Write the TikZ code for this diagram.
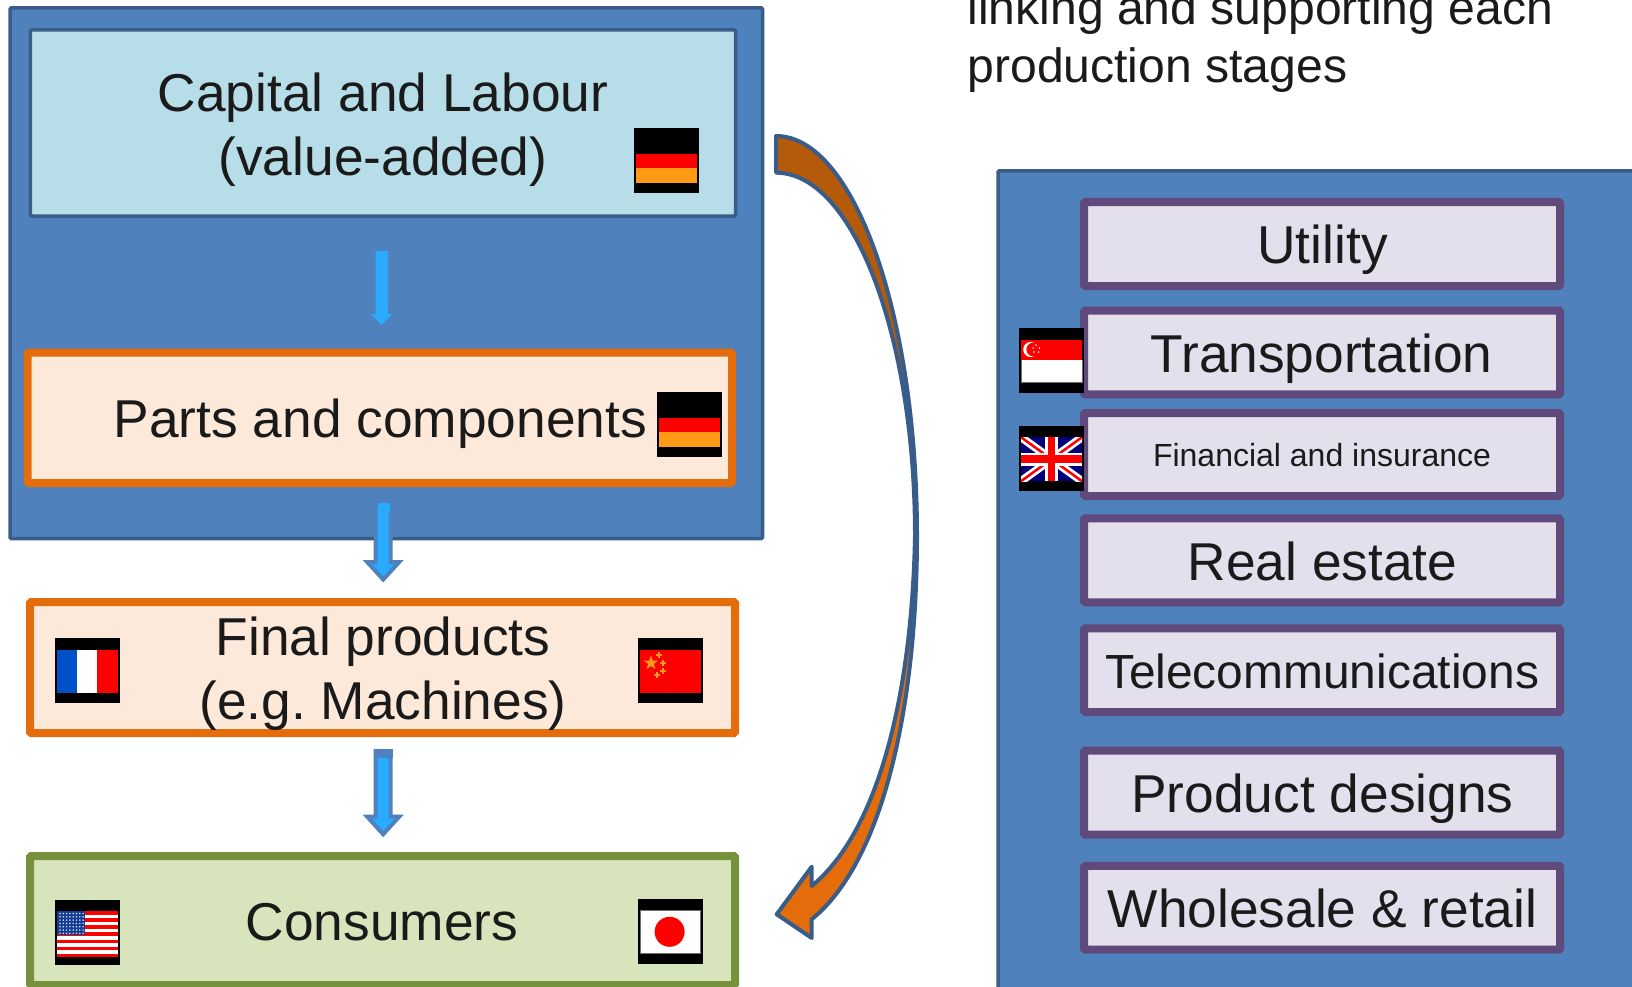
\documentclass[tikz,border=0pt]{standalone}
\usepackage{fontspec}
\setmainfont{Liberation Sans}
\usetikzlibrary{calc}
\frenchspacing
\definecolor{panelfill}{HTML}{4F81BD}
\definecolor{panelline}{HTML}{385D8A}
\definecolor{capfill}{HTML}{B7DDE8}
\definecolor{orfill}{HTML}{FDE9D9}
\definecolor{orline}{HTML}{E46C0A}
\definecolor{grfill}{HTML}{D7E4BC}
\definecolor{grline}{HTML}{76923C}
\definecolor{pufill}{HTML}{E4DFEC}
\definecolor{puline}{HTML}{604A7B}
\definecolor{arrowfill}{HTML}{29ABFF}
\definecolor{darkor}{HTML}{B45A08}
\definecolor{ink}{HTML}{1A1A1A}
\definecolor{flagred}{HTML}{FF0000}
\definecolor{flagor}{HTML}{FF9A17}
\definecolor{flagblue}{HTML}{0050C8}
\definecolor{flagnavy}{HTML}{00007A}
\definecolor{canton}{HTML}{123C96}
\definecolor{edgegrey}{HTML}{6A746A}
\newcommand{\flagblack}{\fill[black] (0,0) rectangle (65,65);}
\tikzset{
  x=1pt,y=-1pt,
  boxbase/.style={rectangle,inner sep=0pt,rounded corners=1.2pt,anchor=center},
  bluebox/.style={boxbase,draw=panelline,fill=panelfill,line width=3.5pt},
  capbox/.style={boxbase,draw=panelline,fill=capfill,line width=3.5pt},
  orbox/.style={boxbase,draw=orline,fill=orfill,line width=8pt},
  grbox/.style={boxbase,draw=grline,fill=grfill,line width=8pt},
  pubox/.style={boxbase,draw=puline,fill=pufill,line width=8pt},
  big/.style={font=\fontsize{53.3}{64}\selectfont,text=ink,inner sep=0pt,anchor=base,align=center},
  mid/.style={font=\fontsize{48.1}{58}\selectfont,text=ink,inner sep=0pt,anchor=base,align=left},
  tele/.style={font=\fontsize{47.9}{57}\selectfont,text=ink,inner sep=0pt,anchor=base},
  small/.style={font=\fontsize{32}{38}\selectfont,text=ink,inner sep=0pt,anchor=base},
  blockarrow/.style={fill=arrowfill,draw=panelfill,line width=4pt,line join=miter},
  curveline/.style={draw=panelline,line width=4pt,line join=round},
  deflag/.pic={\flagblack
    \fill[flagred] (2,26.3) rectangle (63,40.3);
    \fill[flagor] (2,40.3) rectangle (63,55);},
  frflag/.pic={\flagblack
    \fill[flagblue] (2.3,12) rectangle (22.3,55);
    \fill[white] (22.3,12) rectangle (42.3,55);
    \fill[flagred] (42.3,12) rectangle (62.7,55);},
  cnflag/.pic={\flagblack
    \fill[flagred] (2.3,12) rectangle (62.7,55);
    \fill[flagor] (13,18)--(14.76,23.07)--(20.1,23.2)--(15.85,26.43)--(17.4,31.6)--(13,28.5)--(8.6,31.6)--(10.15,26.43)--(5.9,23.2)--(11.24,23.07)--cycle;
    \foreach \a/\b in {21.3/17,25.3/25.3,25.3/33.7,19.3/37.7}{
      \fill[flagor] (\a-1,\b-3) rectangle (\a+1,\b+3);
      \fill[flagor] (\a-3,\b-1) rectangle (\a+3,\b+1);}},
  usflag/.pic={\flagblack
    \fill[white] (2.3,11.7) rectangle (62.7,57.7);
    \foreach \i in {0,...,6}{\fill[flagred] (2.3,{11.7+7.08*\i}) rectangle (62.7,{11.7+7.08*\i+3.54});}
    \fill[canton] (2.3,11.7) rectangle (30,35.7);
    \foreach \r in {0,...,6}{\foreach \c in {0,...,7}{\fill[white!85!canton] ({5+3.3*\c},{14+3.3*\r}) circle (0.85);}}},
  jpflag/.pic={\flagblack
    \fill[white] (2.3,12) rectangle (62.7,55);
    \draw[edgegrey,line width=0.8pt] (2.3,12) rectangle (62.7,55);
    \fill[flagred] (31.6,33.3) circle (15);},
  sgflag/.pic={\flagblack
    \fill[white] (2,32) rectangle (63,55);
    \draw[edgegrey,line width=0.8pt] (2,32)--(2,55)--(63,55)--(63,32);
    \fill[flagred] (2,12) rectangle (63,32);
    \fill[white] (11.7,22) circle (7.5);
    \fill[flagred] (14.2,22) circle (6.8);
    \foreach \a/\b in {17/17.5,20.5/20.5,19.5/24.5,15/24.5,14/20.5}{\fill[white] (\a,\b) circle (0.9);}},
  ukflag/.pic={\flagblack
    \begin{scope}
      \clip (2,11.7) rectangle (63,55.7);
      \fill[flagnavy] (2,11.7) rectangle (63,55.7);
      \draw[white,line width=8pt] (2,11.7)--(63,55.7) (2,55.7)--(63,11.7);
      \draw[flagred,line width=2.5pt] (2,11.7)--(63,55.7) (2,55.7)--(63,11.7);
      \draw[white,line width=13pt] (32.5,11.7)--(32.5,55.7) (2,33.7)--(63,33.7);
      \draw[flagred,line width=7.5pt] (32.5,11.7)--(32.5,55.7) (2,33.7)--(63,33.7);
    \end{scope}}
}
\begin{document}
\begin{tikzpicture}
\clip (0,0) rectangle (1632,987);
\fill[white] (0,0) rectangle (1632,987);

% top text
\node[mid,anchor=base west] (toptext) at (967.3,82.3) {linking and supporting each\\production stages};

% left column
\node[bluebox,minimum width=752.5pt,minimum height=530.5pt] (upstream) at (386.25,273.25) {};
\node[capbox,minimum width=705.1pt,minimum height=186pt] (capital) at (382.95,123) {};
\node[orbox,minimum width=704.5pt,minimum height=130.5pt] (parts) at (379.75,417.75) {};
\node[orbox,minimum width=705pt,minimum height=131pt] (final) at (382.5,667.5) {};
\node[grbox,minimum width=705pt,minimum height=129pt] (consumers) at (382.5,920.5) {};

% block arrows
\coordinate (a1) at (381.7,251);
\fill[arrowfill] (a1) ++(-6.2,0) -- ++(12.4,0) -- ++(0,63) -- ++(4.5,0) -- ++(-10.7,11) -- ++(-10.7,-11) -- ++(4.5,0) -- cycle;
\coordinate (a2) at (383.2,505);
\path[blockarrow] (a2) ++(-7.5,0) -- ++(15,0) -- ++(0,57) -- ++(8.5,0) -- ++(-16,17.5) -- ++(-16,-17.5) -- ++(8.5,0) -- cycle;
\fill[panelfill] (375.7,503) rectangle (390.7,505);
\fill[arrowfill] (377.9,503) rectangle (389.7,512);
\coordinate (a3) at (383.2,751);
\path[blockarrow] (a3) ++(-7.5,0) -- ++(15,0) -- ++(0,65.7) -- ++(8.5,0) -- ++(-16,17.5) -- ++(-16,-17.5) -- ++(8.5,0) -- cycle;
\fill[panelfill] (373.7,749) rectangle (392.7,758);

% curved arrow
\coordinate (cstart) at (776,136);
\coordinate (cstartb) at (776,172.7);
\coordinate (cmid) at (917,536);
\coordinate (cmidb) at (915,536);
\coordinate (ctip) at (776.7,914.3);
\path[curveline,fill=darkor] (cstart) .. controls (853.9,136) and (917,315) .. (cmid) -- (cmidb) .. controls (915,335.5) and (853,172.7) .. (cstartb) -- cycle;
\path[curveline,fill=orline] (cmid) .. controls (917,700) and (885,860) .. (811.7,919.3) -- (811.7,938) -- (ctip) -- (811.7,866.7) -- (811.7,886) .. controls (880,830) and (912,690) .. (cmidb) -- cycle;

% right panel
\node[bluebox,minimum width=682pt,minimum height=879pt] (panel) at (1339,610.5) {};
\node[pubox,minimum width=476pt,minimum height=84pt] (utility) at (1322,244) {};
\node[pubox,minimum width=476pt,minimum height=83.7pt] (transport) at (1322,352.5) {};
\node[pubox,minimum width=476pt,minimum height=83pt] (financial) at (1322,454.5) {};
\node[pubox,minimum width=476pt,minimum height=84pt] (realestate) at (1322,560.3) {};
\node[pubox,minimum width=476pt,minimum height=83.7pt] (telecom) at (1322,670.2) {};
\node[pubox,minimum width=476pt,minimum height=84pt] (product) at (1322,792.7) {};
\node[pubox,minimum width=476pt,minimum height=83.7pt] (wholesale) at (1322,907.8) {};

% flags
\pic at (634,128) {deflag};
\pic at (656.5,391.5) {deflag};
\pic at (55,637.5) {frflag};
\pic at (638,637.5) {cnflag};
\pic at (55,899.5) {usflag};
\pic at (638,898.5) {jpflag};
\pic at (1019,327.5) {sgflag};
\pic at (1019,425.5) {ukflag};

% labels
\node[big] (capitaltext) at (383,175.5) {Capital and Labour\\(value-added)};
\node[big] (partstext) at (380.3,437) {Parts and components};
\node[big] (finaltext) at (383,719.3) {Final products\\(e.g. Machines)};
\node[big] (consumerstext) at (382,940.7) {Consumers};
\node[big] (utilitytext) at (1322.6,263) {Utility};
\node[big] (transporttext) at (1321.5,372) {Transportation};
\node[small] (financialtext) at (1322,466.7) {Financial and insurance};
\node[big] (realtext) at (1322.5,580) {Real estate};
\node[tele] (teletext) at (1322,688.5) {Telecommunications};
\node[big] (producttext) at (1322.5,812) {Product designs};
\node[big] (wholesaletext) at (1322.5,927.5) {Wholesale \& retail};
\end{tikzpicture}
\end{document}
